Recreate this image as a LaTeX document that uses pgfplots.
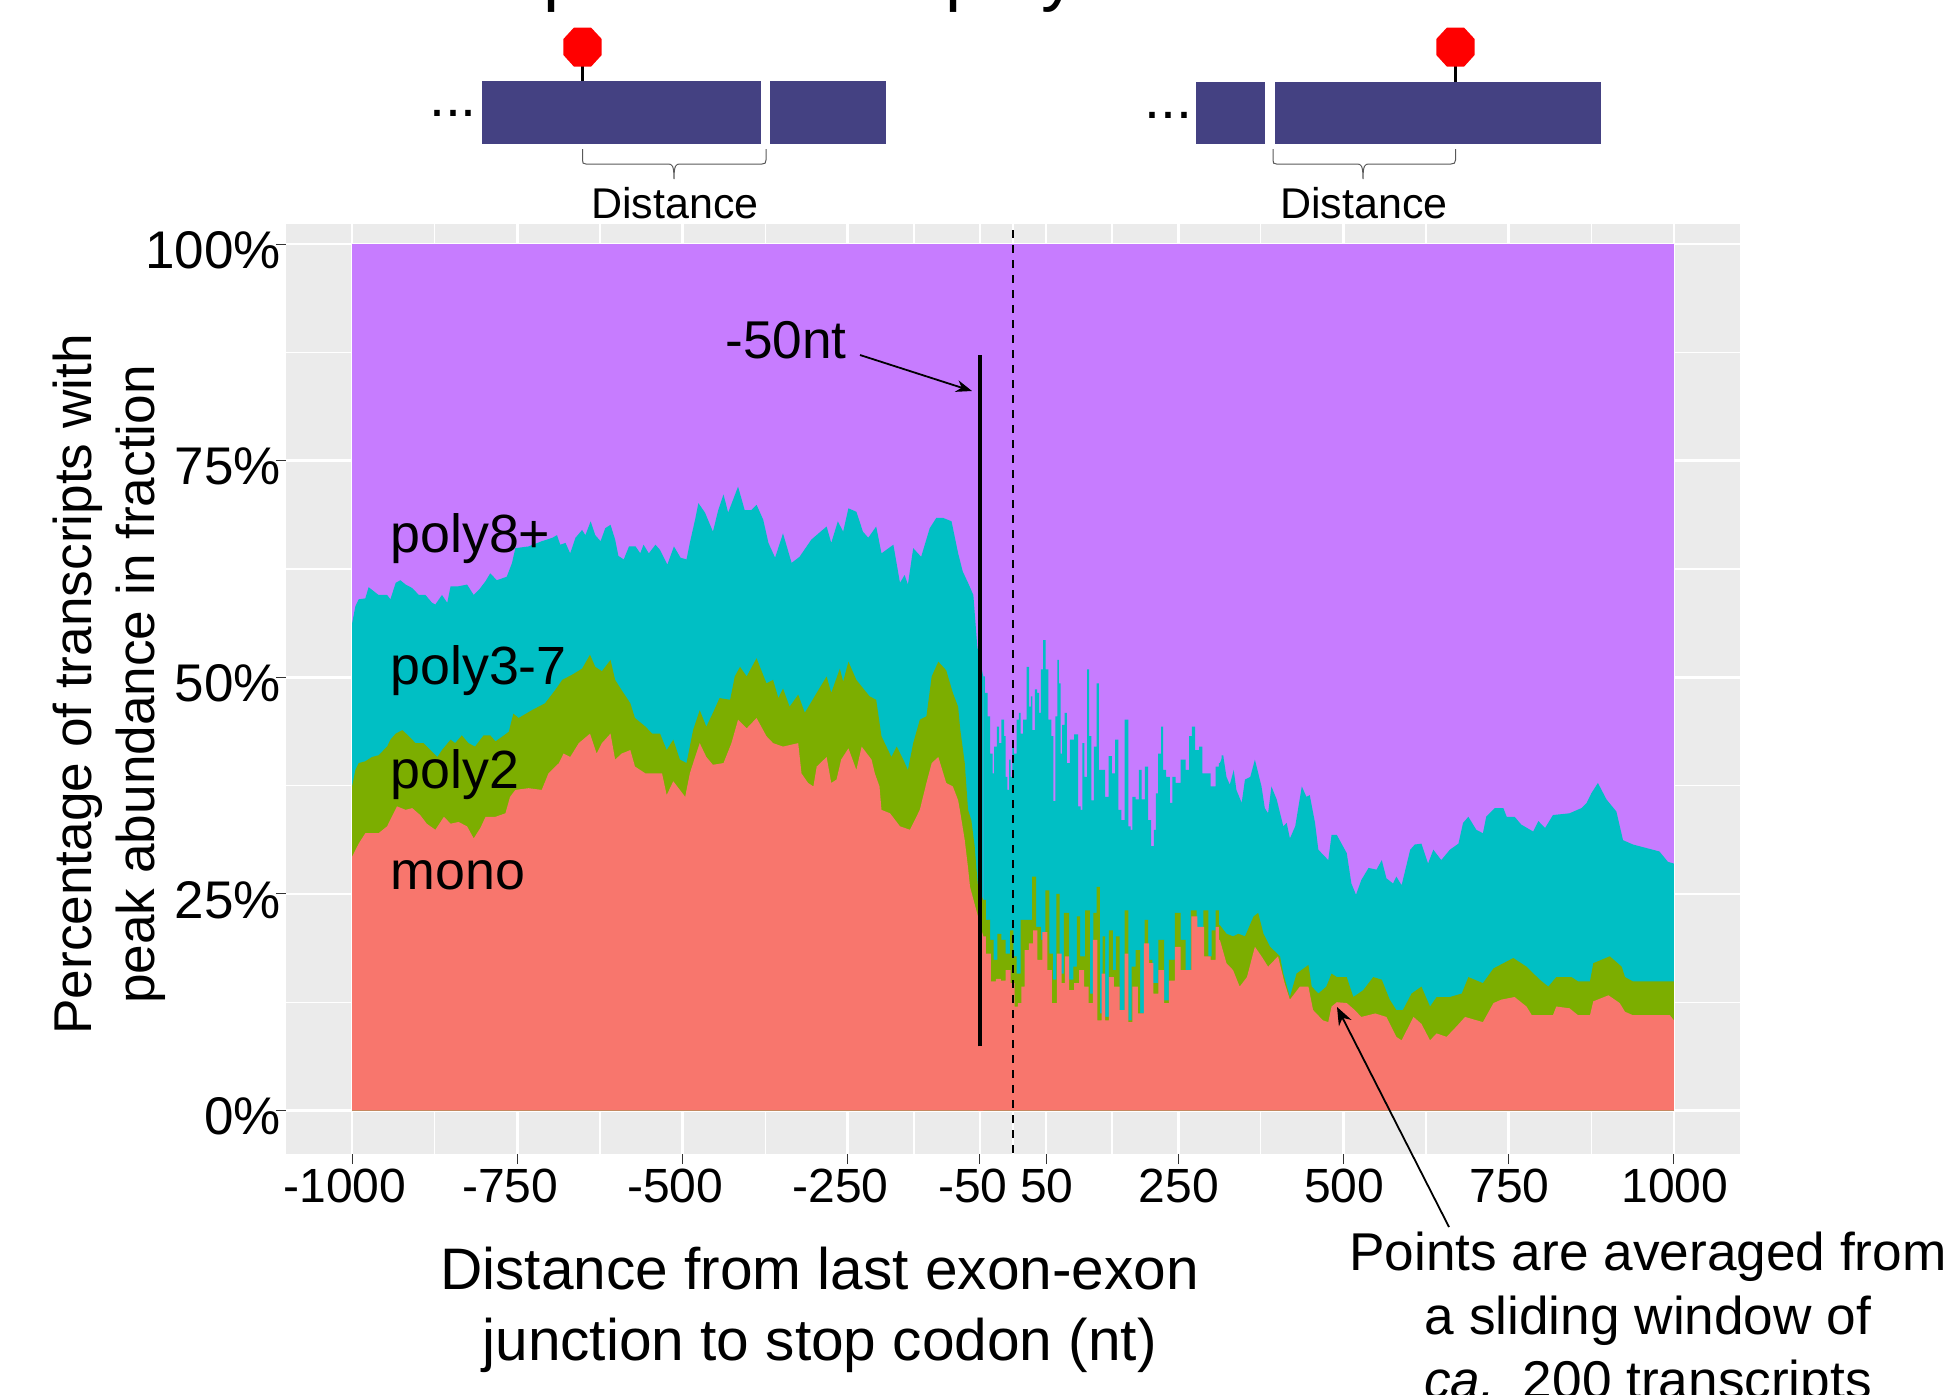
\documentclass[border=0pt]{standalone}
\usepackage{fontspec}
\setmainfont{Liberation Sans}
\usepackage{pgfplots}
\usepackage{pgfplotstable}
\usetikzlibrary{arrows.meta}
\pgfplotsset{compat=1.18}
\definecolor{cmono}{HTML}{F8766D}
\definecolor{cpolytwo}{HTML}{7CAE00}
\definecolor{cpolythree}{HTML}{00BFC4}
\definecolor{cpolyeight}{HTML}{C77CFF}
\definecolor{panel}{HTML}{EBEBEB}
\definecolor{exon}{HTML}{444182}
\pgfplotstableread[row sep=\\]{x y\\
-1000 100\\ 1000 100\\
}\tabeight
\pgfplotstableread[row sep=\\]{x y\\
-1000 56.2\\ -995 58.2\\ -990 59.0\\ -980 59.1\\ -975 60.4\\ -970 60.1\\ -960 59.5\\ -947 59.5\\ -942 59.0\\ -934 60.9\\ -927 61.2\\ -919 60.7\\ -909 60.3\\ -899 59.5\\ -889 59.5\\ -879 58.6\\ -874 58.4\\ -864 59.5\\ -856 58.6\\ -851 60.5\\ -839 60.5\\ -826 60.7\\ -816 59.5\\ -808 60.1\\ -798 61.1\\ -791 62.0\\ -781 61.2\\ -766 61.6\\ -758 63.2\\ -753 64.9\\ -733 65.1\\ -713 65.7\\ -697 66.1\\ -690 66.4\\ -685 65.3\\ -677 65.5\\ -670 64.3\\ -662 66.1\\ -652 67.0\\ -647 66.4\\ -639 68.0\\ -632 66.4\\ -624 65.7\\ -617 67.2\\ -609 67.6\\ -602 65.9\\ -597 64.0\\ -589 63.6\\ -581 65.1\\ -571 65.1\\ -564 64.3\\ -559 65.3\\ -551 64.3\\ -541 65.3\\ -534 64.7\\ -523 63.0\\ -513 65.1\\ -503 63.8\\
-494 63.6\\ -489 65.5\\ -481 68.2\\ -476 70.1\\ -466 69.0\\ -454 66.8\\ -446 69.3\\ -438 71.1\\ -431 69.0\\ -416 72.0\\ -406 69.3\\ -396 69.3\\ -388 69.9\\ -378 68.2\\ -370 65.5\\ -360 63.8\\ -348 66.6\\ -335 63.2\\ -323 63.9\\ -305 65.9\\ -282 67.4\\ -275 65.5\\ -265 68.0\\ -257 66.8\\ -249 69.5\\ -237 69.1\\ -227 66.8\\ -219 66.1\\ -207 67.4\\ -199 64.3\\ -181 65.3\\ -171 60.9\\ -164 61.8\\ -159 60.7\\ -151 64.9\\ -139 63.9\\ -126 67.2\\ -116 68.4\\ -106 68.4\\ -93 68.0\\ -83 64.3\\ -76 62.2\\ -68 60.9\\ -60 59.5\\ -54 53.5\\
-45 50.1\\ -40 48.2\\ -37 45.5\\ -32 41.2\\ -30 38.9\\ -27 42.0\\ -22 44.3\\ -20 42.4\\ -15 45.1\\ -12 43.2\\ -10 38.5\\ -7 37.0\\ -5 40.5\\ -2 38.5\\ 0 42.0\\ 3 41.2\\ 8 45.1\\ 10 45.9\\ 13 43.5\\ 18 45.1\\ 23 51.2\\ 26 46.6\\ 28 47.8\\ 31 43.9\\ 35 48.6\\ 38 48.2\\ 41 45.9\\ 43 50.9\\ 48 54.3\\ 51 50.9\\ 56 45.1\\ 60 43.2\\ 62 35.7\\ 66 45.5\\ 68 52.0\\ 71 49.3\\ 73 41.2\\ 76 44.5\\ 80 45.9\\ 83 40.1\\ 89 42.8\\ 96 43.4\\ 101 35.1\\ 104 34.7\\ 106 42.4\\ 110 38.5\\ 114 50.9\\ 116 43.2\\ 121 35.8\\ 124 42.0\\ 129 49.3\\ 131 39.3\\ 137 39.3\\ 142 36.2\\ 147 40.9\\ 152 38.9\\ 157 42.8\\ 162 34.7\\ 166 33.5\\ 172 45.1\\ 177 32.8\\ 179 32.4\\ 182 36.2\\ 189 35.9\\ 192 39.3\\ 197 35.9\\ 202 39.7\\ 207 33.5\\ 211 30.5\\ 215 32.4\\ 217 36.6\\ 222 41.2\\ 226 44.3\\ 228 39.3\\ 235 38.5\\ 240 35.5\\ 242 38.5\\ 250 37.8\\ 257 40.5\\ 265 39.3\\ 268 43.2\\ 273 44.3\\ 278 41.6\\ 285 42.0\\ 288 38.9\\ 295 38.9\\ 303 37.4\\ 310 39.7\\
313 40.1\\ 318 41.0\\ 323 38.5\\ 328 37.6\\ 334 39.3\\ 338 37.0\\ 346 35.5\\ 351 38.2\\ 359 38.5\\ 366 40.5\\ 376 37.4\\ 381 34.9\\ 386 34.3\\ 391 37.4\\ 399 35.9\\ 409 32.8\\ 414 33.2\\ 419 31.4\\ 427 32.8\\ 437 37.4\\ 444 36.2\\ 449 36.4\\ 457 33.2\\ 462 30.1\\ 477 28.9\\ 482 31.8\\ 490 31.8\\ 505 29.7\\ 512 26.2\\ 519 24.9\\ 527 26.6\\ 538 28.0\\ 550 27.8\\ 558 28.9\\ 565 26.8\\ 575 26.2\\ 580 27.0\\ 588 26.0\\ 601 30.1\\ 608 30.7\\ 618 30.8\\ 628 28.5\\ 636 30.1\\ 648 28.9\\ 661 30.1\\ 674 30.8\\ 681 33.2\\ 689 33.9\\ 701 32.4\\ 711 32.0\\ 716 33.9\\ 729 34.9\\ 742 34.9\\ 747 33.9\\ 759 33.9\\ 769 33.0\\ 787 32.2\\ 795 33.4\\ 805 32.6\\ 817 34.1\\ 842 34.3\\ 860 34.9\\ 868 35.5\\ 875 36.6\\ 885 37.8\\ 898 35.9\\ 913 34.5\\ 923 31.2\\ 938 30.7\\ 958 30.3\\ 978 29.9\\ 991 28.7\\ 1000 28.5\\
}\tabthree
\pgfplotstableread[row sep=\\]{x y\\
-1000 37.4\\ -995 39.3\\ -990 40.1\\ -980 40.3\\ -970 40.8\\ -960 41.0\\ -947 42.0\\ -942 42.8\\ -934 43.5\\ -924 43.9\\ -914 43.2\\ -904 42.4\\ -892 42.4\\ -879 41.4\\ -871 40.8\\ -864 41.6\\ -851 42.8\\ -844 42.4\\ -834 43.3\\ -824 42.4\\ -814 42.0\\ -801 43.3\\ -791 43.3\\ -783 42.6\\ -763 43.7\\ -756 45.8\\ -748 45.3\\ -728 46.2\\ -708 47.0\\ -693 48.5\\ -682 49.7\\ -667 50.3\\ -652 51.0\\ -640 52.6\\ -632 51.2\\ -622 50.7\\ -609 52.0\\ -602 49.7\\ -592 48.5\\ -579 47.0\\ -572 45.3\\ -556 44.3\\ -546 43.5\\ -534 43.5\\ -524 41.6\\ -514 42.8\\ -504 40.5\\
-494 40.1\\ -484 43.9\\ -474 46.2\\ -464 44.3\\ -454 45.9\\ -444 47.6\\ -428 47.4\\ -421 50.1\\ -413 51.2\\ -403 50.1\\ -388 52.2\\ -373 49.3\\ -363 49.7\\ -355 47.6\\ -348 48.7\\ -338 46.6\\ -325 48.0\\ -315 45.9\\ -297 48.2\\ -282 50.1\\ -275 48.2\\ -262 51.0\\ -257 49.5\\ -249 51.8\\ -237 49.7\\ -217 47.8\\ -207 47.4\\ -199 43.2\\ -184 40.8\\ -176 42.0\\ -166 40.5\\ -159 39.3\\ -151 42.4\\ -141 45.1\\ -131 45.5\\ -123 50.1\\ -113 51.8\\ -101 50.8\\ -91 48.2\\ -83 46.6\\ -80 44.1\\ -73 40.1\\ -68 34.7\\ -63 33.5\\ -58 30.5\\ -53 25.8\\
-45 24.3\\ -37 22.0\\ -32 19.7\\ -27 17.4\\ -20 20.4\\ -15 19.7\\ -7 18.1\\ -2 20.8\\ 3 17.8\\ 8 15.8\\ 15 22.0\\ 26 22.0\\ 32 27.0\\ 38 21.2\\ 46 19.7\\ 52 25.4\\ 58 18.1\\ 63 15.1\\ 68 25.0\\ 73 15.8\\ 81 22.8\\ 89 15.1\\ 94 16.6\\ 99 22.4\\ 104 17.8\\ 114 23.1\\ 119 13.5\\ 124 22.8\\ 129 25.8\\ 134 11.2\\ 137 20.1\\ 142 10.8\\ 148 20.8\\ 154 16.2\\ 157 20.1\\ 166 11.6\\ 172 23.1\\ 177 10.4\\ 182 16.6\\ 189 18.5\\ 196 11.2\\ 202 22.0\\ 207 17.4\\ 215 14.7\\ 225 19.7\\ 232 12.7\\ 240 17.4\\ 250 22.8\\ 257 19.7\\ 265 16.2\\ 273 23.1\\ 283 20.8\\ 293 23.1\\ 298 17.8\\ 303 20.8\\ 310 23.1\\
313 21.4\\ 323 20.4\\ 333 20.1\\ 341 20.4\\ 351 20.1\\ 364 22.4\\ 371 22.8\\ 379 20.4\\ 389 18.9\\ 404 17.8\\ 409 15.8\\ 419 13.1\\ 429 15.8\\ 447 16.8\\ 452 14.3\\ 462 13.5\\ 474 14.3\\ 482 15.8\\ 490 15.4\\ 505 15.4\\ 515 13.1\\ 530 13.9\\ 545 15.4\\ 558 15.1\\ 570 12.8\\ 580 11.6\\ 590 11.6\\ 603 13.5\\ 618 14.3\\ 631 12.0\\ 641 13.1\\ 661 13.1\\ 679 13.5\\ 689 15.4\\ 711 14.7\\ 727 16.4\\ 757 17.6\\ 777 16.6\\ 797 15.1\\ 810 14.3\\ 822 15.4\\ 845 15.4\\ 855 14.9\\ 873 14.9\\ 878 17.0\\ 903 17.8\\ 921 16.6\\ 926 15.4\\ 938 14.9\\ 1000 14.9\\
}\tabtwo
\pgfplotstableread[row sep=\\]{x y\\
-1000 29.3\\ -990 30.8\\ -980 32.0\\ -970 32.0\\ -960 32.0\\ -947 32.8\\ -940 33.9\\ -932 35.1\\ -919 34.7\\ -909 34.9\\ -897 34.1\\ -887 33.1\\ -874 32.4\\ -861 33.9\\ -851 33.1\\ -839 33.3\\ -826 32.8\\ -816 31.4\\ -806 32.6\\ -798 33.9\\ -783 33.9\\ -768 34.3\\ -761 36.2\\ -753 37.0\\ -733 37.2\\ -713 37.0\\ -703 38.9\\ -687 40.1\\ -680 41.2\\ -670 40.8\\ -657 42.4\\ -640 43.5\\ -630 41.2\\ -622 42.4\\ -609 43.5\\ -602 40.5\\ -592 41.2\\ -579 41.6\\ -572 39.7\\ -556 38.9\\ -531 38.9\\ -524 36.4\\ -514 38.0\\ -504 37.0\\
-496 36.2\\ -489 38.9\\ -481 40.8\\ -474 42.4\\ -464 40.8\\ -454 39.9\\ -438 40.1\\ -426 42.4\\ -416 45.1\\ -403 44.1\\ -388 45.3\\ -373 43.2\\ -363 42.4\\ -348 42.0\\ -325 42.4\\ -320 38.9\\ -310 37.8\\ -302 37.4\\ -297 39.7\\ -282 40.8\\ -275 37.8\\ -267 38.2\\ -260 40.5\\ -249 41.8\\ -237 39.3\\ -229 42.0\\ -214 40.5\\ -209 38.9\\ -202 37.4\\ -199 34.7\\ -186 34.3\\ -171 32.8\\ -156 32.4\\ -141 34.7\\ -131 37.8\\ -123 40.1\\ -113 40.8\\ -101 37.8\\ -91 37.4\\ -83 35.8\\ -80 34.5\\ -73 31.2\\ -68 28.0\\ -65 25.8\\ -53 22.4\\
-45 20.1\\ -37 18.1\\ -30 14.9\\ -22 15.2\\ -15 15.0\\ -7 16.2\\ 0 14.7\\ 5 12.0\\ 10 12.4\\ 15 14.3\\ 20 18.5\\ 28 19.3\\ 33 20.8\\ 41 17.4\\ 48 20.6\\ 56 16.2\\ 62 12.4\\ 71 18.1\\ 76 14.7\\ 81 17.8\\ 89 13.9\\ 96 14.7\\ 104 16.2\\ 111 14.3\\ 118 12.4\\ 124 19.7\\ 131 10.4\\ 137 15.8\\ 142 10.4\\ 148 15.4\\ 157 14.3\\ 166 11.6\\ 172 18.1\\ 177 10.2\\ 184 14.3\\ 194 11.2\\ 202 19.3\\ 210 17.0\\ 215 13.5\\ 225 16.2\\ 232 12.4\\ 240 15.0\\ 250 18.9\\ 257 16.2\\ 265 16.2\\ 275 22.4\\ 283 21.2\\ 295 17.8\\ 303 17.4\\ 310 21.2\\
313 19.7\\ 323 17.0\\ 333 16.2\\ 343 14.3\\ 354 15.4\\ 366 18.9\\ 376 17.8\\ 386 16.6\\ 401 17.8\\ 411 14.7\\ 419 12.8\\ 434 14.3\\ 447 14.3\\ 454 11.6\\ 469 10.4\\ 477 10.2\\ 482 12.0\\ 490 12.5\\ 505 12.4\\ 517 11.6\\ 527 10.8\\ 548 11.2\\ 565 10.8\\ 580 8.5\\ 588 8.1\\ 606 10.8\\ 618 10.0\\ 631 8.1\\ 641 8.9\\ 656 8.5\\ 671 9.7\\ 684 10.8\\ 711 10.2\\ 727 12.4\\ 739 12.8\\ 759 13.1\\ 777 12.0\\ 785 11.0\\ 817 11.0\\ 822 12.0\\ 842 11.8\\ 855 11.0\\ 873 11.0\\ 878 12.6\\ 901 13.3\\ 918 12.4\\ 926 11.4\\ 938 11.0\\ 994 11.0\\ 1000 10.4\\
}\tabmono
\begin{document}
\begin{tikzpicture}
\useasboundingbox (0,0) rectangle (975.5pt,-697pt);
\clip (0,0) rectangle (975.5pt,-697pt);
\begin{axis}[
  at={(143pt,-577pt)}, anchor=south west,
  scale only axis, width=727pt, height=465pt,
  xmin=-1100, xmax=1100, ymin=-5.02, ymax=102.31,
  axis line style={draw=none},
  axis background/.style={fill=panel},
  xtick={-1000,-750,-500,-250,-50,50,250,500,750,1000},
  xticklabels={-1000\hphantom{-},-750\hphantom{-},-500\hphantom{-},-250\hphantom{-},-50\hphantom{-},50,250,500,750,1000},
  minor xtick={-875,-625,-375,-150,0,150,375,625,875},
  ytick={0,25,50,75,100},
  yticklabels={0\%,25\%,50\%,75\%,100\%},
  minor ytick={12.5,37.5,62.5,87.5},
  grid=both,
  major grid style={white,line width=1.3pt},
  minor grid style={white,line width=0.65pt},
  tick align=outside, major tick length=5pt, minor tick length=0pt,
  tick style={color=black!80,line width=0.5pt},
  xtick pos=lower, ytick pos=left,
  xticklabel style={font=\fontsize{24}{28}\selectfont,yshift=1.2pt,xshift=0.4pt},
  yticklabel style={font=\fontsize{26.5}{30}\selectfont,yshift=-3pt,xshift=6pt},
  xlabel={Distance from last exon-exon\\junction to stop codon (nt)},
  xlabel style={align=center,font=\fontsize{29.3}{35.5}\selectfont,at={(axis description cs:0.367,-0.0928)},anchor=north},
  ylabel={Percentage of transcripts with\\peak abundance in fraction},
  ylabel style={align=center,font=\fontsize{26.6}{31.5}\selectfont,rotate=0,at={(axis description cs:-0.1215,0.505)},anchor=center},
  lhs/.style={restrict x to domain=-1000:-45},
  mid/.style={restrict x to domain=-53:318,const plot mark mid},
  rhs/.style={restrict x to domain=313:1000},
]
\addplot[fill=cpolyeight,draw=none] table[x=x,y=y] {\tabeight} \closedcycle;
\addplot[fill=cpolythree,draw=none,lhs] table[x=x,y=y] {\tabthree} \closedcycle;
\addplot[fill=cpolythree,draw=none,mid] table[x=x,y=y] {\tabthree} \closedcycle;
\addplot[fill=cpolythree,draw=none,rhs] table[x=x,y=y] {\tabthree} \closedcycle;
\addplot[fill=cpolytwo,draw=none,lhs] table[x=x,y=y] {\tabtwo} \closedcycle;
\addplot[fill=cpolytwo,draw=none,mid] table[x=x,y=y] {\tabtwo} \closedcycle;
\addplot[fill=cpolytwo,draw=none,rhs] table[x=x,y=y] {\tabtwo} \closedcycle;
\addplot[fill=cmono,draw=none,lhs] table[x=x,y=y] {\tabmono} \closedcycle;
\addplot[fill=cmono,draw=none,mid] table[x=x,y=y] {\tabmono} \closedcycle;
\addplot[fill=cmono,draw=none,rhs] table[x=x,y=y] {\tabmono} \closedcycle;
\addplot[black,line width=2.1pt] coordinates {(-50,7.4) (-50,87.2)};
\addplot[black,line width=0.7pt,dash pattern=on 4pt off 3.5pt] coordinates {(0,-4.9) (0,102)};
\end{axis}
\begin{scope}[x=0.5pt,y=-0.5pt]
% plot labels
\node[anchor=base west,inner sep=0pt,font=\fontsize{26.9}{30}\selectfont] at (390,552) {poly8+};
\node[anchor=base west,inner sep=0pt,font=\fontsize{26.9}{30}\selectfont] at (390,684) {poly3-7};
\node[anchor=base west,inner sep=0pt,font=\fontsize{26.9}{30}\selectfont] at (390,788) {poly2};
\node[anchor=base west,inner sep=0pt,font=\fontsize{26.9}{30}\selectfont] at (390,889) {mono};
\node[anchor=base west,inner sep=0pt,font=\fontsize{26.6}{30}\selectfont] at (725,358) {-50nt};
\draw[-{Stealth[length=8pt,width=6pt]},line width=0.9pt] (860,355) -- (972,391);
\draw[-{Stealth[length=9pt,width=7pt]},line width=0.9pt] (1449,1227) -- (1337,1007);
\node[anchor=base,inner sep=0pt,font=\fontsize{26.6}{30}\selectfont] at (1648,1270) {Points are averaged from};
\node[anchor=base,inner sep=0pt,font=\fontsize{26.6}{30}\selectfont] at (1648,1334) {a sliding window of};
\node[anchor=base,inner sep=0pt,font=\fontsize{26.6}{30}\selectfont] at (1648,1398) {\textit{ca.}\hspace{0.15em} 200 transcripts};
% cropped title
\node[anchor=base west,inner sep=0pt,font=\fontsize{36}{40}\selectfont] at (543,-3) {p};
\node[anchor=base west,inner sep=0pt,font=\fontsize{36}{40}\selectfont] at (945,-3) {poly};
% exons
\fill[exon] (482,81) rectangle (761,144);
\fill[exon] (770,81) rectangle (886,144);
\fill[exon] (1196.4,82) rectangle (1265,144);
\fill[exon] (1275.3,82) rectangle (1601.4,144);
\draw[black,line width=1.3pt] (582.5,66) -- (582.5,81);
\draw[black,line width=1.3pt] (1455.5,66) -- (1455.5,82);
\fill[red] (574,27.5) -- (591,27.5) -- (601.7,39) -- (601.7,55) -- (591,66.7) -- (574,66.7) -- (563.4,55) -- (563.4,39) -- cycle;
\fill[red] (1447,27.5) -- (1464,27.5) -- (1474.6,39) -- (1474.6,55) -- (1464,66.7) -- (1447,66.7) -- (1436.3,55) -- (1436.3,39) -- cycle;
\node[anchor=base,inner sep=0pt,font=\fontsize{28.7}{30}\selectfont] at (453,116) {...};
\node[anchor=base,inner sep=0pt,font=\fontsize{28.7}{30}\selectfont] at (1168,118) {...};
% braces
\draw[black!65,line width=0.5pt] (582.5,149) -- (582.5,160) .. controls (582.5,163) and (583,164) .. (586,164) -- (668,164) .. controls (672,164) and (674,165) .. (674,179) .. controls (674,165) and (676,164) .. (680,164) -- (762,164) .. controls (765,164) and (766,163) .. (766,160) -- (766,149);
\draw[black!65,line width=0.5pt] (1273,149) -- (1273,160) .. controls (1273,163) and (1273.5,164) .. (1276.5,164) -- (1357,164) .. controls (1361,164) and (1363,165) .. (1363,179) .. controls (1363,165) and (1365,164) .. (1369,164) -- (1451,164) .. controls (1454,164) and (1455.5,163) .. (1455.5,160) -- (1455.5,149);
\node[anchor=base,inner sep=0pt,font=\fontsize{21.5}{26}\selectfont] at (675,218) {Distance};
\node[anchor=base,inner sep=0pt,font=\fontsize{21.5}{26}\selectfont] at (1364,218) {Distance};
\end{scope}
\end{tikzpicture}
\end{document}
